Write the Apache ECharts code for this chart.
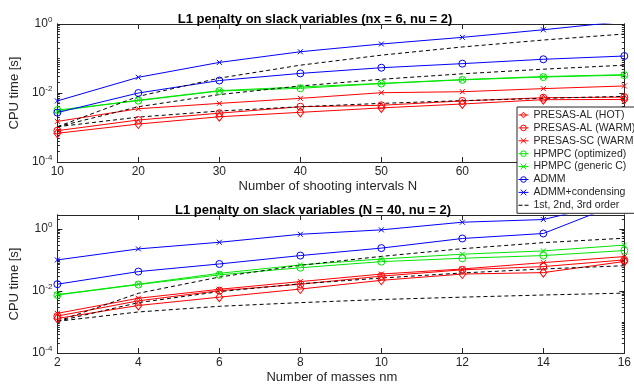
<!DOCTYPE html>
<html>
<head>
<meta charset="utf-8">
<script src="https://cdn.jsdelivr.net/npm/echarts@6/dist/echarts.min.js"></script>
<style>
  html, body { margin: 0; padding: 0; background: #fff; }
  #chart { width: 634px; height: 388px; }
</style>
</head>
<body>
<div id="chart"></div>
<script>
// x values of both panels
const shootingN = [10, 20, 30, 40, 50, 60, 70, 80];
const massesNm = [2, 4, 6, 8, 10, 12, 14, 16];

// top panel: CPU time vs N  (nx = 6, nu = 2)
const presasAlHotN = [6.8e-4, 1.26e-3, 2.05e-3, 2.75e-3, 3.7e-3, 4.8e-3, 6.4e-3, 6.5e-3];
const presasAlWarmN = [8.1e-4, 1.65e-3, 2.6e-3, 4.0e-3, 4.4e-3, 5.9e-3, 7.3e-3, 7.6e-3];
const presasScWarmN = [1.5e-3, 3.5e-3, 5.0e-3, 7.0e-3, 1.02e-2, 1.09e-2, 1.34e-2, 1.6e-2];
const hpmpcOptN = [3.2e-3, 6.0e-3, 1.14e-2, 1.37e-2, 1.87e-2, 2.4e-2, 2.9e-2, 3.3e-2];
const hpmpcGenN = [3.0e-3, 6.2e-3, 1.17e-2, 1.5e-2, 1.9e-2, 2.45e-2, 3.0e-2, 3.4e-2];
const admmN = [2.7e-3, 1.0e-2, 2.3e-2, 3.7e-2, 5.4e-2, 7.1e-2, 9.5e-2, 0.118];
const admmCondN = [5.9e-3, 2.85e-2, 7.7e-2, 0.157, 0.263, 0.41, 0.68, 1.19];
const order1N = [1.05e-3, 2e-3, 3e-3, 4e-3, 5e-3, 6e-3, 7e-3, 8e-3];
const order2N = [1.05e-3, 4e-3, 9e-3, 1.6e-2, 2.5e-2, 3.6e-2, 4.9e-2, 6.4e-2];
const order3N = [1.05e-3, 8e-3, 2.7e-2, 6.4e-2, 0.125, 0.216, 0.343, 0.512];

// bottom panel: CPU time vs nm  (N = 40, nu = 2)
const presasAlHotM = [1.3e-3, 3.4e-3, 6.3e-3, 1.15e-2, 2.2e-2, 3.5e-2, 3.9e-2, 8.9e-2];
const presasAlWarmM = [1.55e-3, 4.8e-3, 1.02e-2, 1.65e-2, 3.0e-2, 4.8e-2, 6.1e-2, 0.1];
const presasScWarmM = [1.9e-3, 5.8e-3, 1.13e-2, 2.0e-2, 3.5e-2, 5.1e-2, 8.2e-2, 0.128];
const hpmpcOptM = [7.4e-3, 1.6e-2, 3.3e-2, 5.6e-2, 8.8e-2, 0.113, 0.138, 0.2];
const hpmpcGenM = [7.6e-3, 1.65e-2, 3.7e-2, 6.9e-2, 0.107, 0.153, 0.195, 0.3];
const admmM = [1.65e-2, 4.2e-2, 7.4e-2, 0.138, 0.24, 0.49, 0.71, 7.5];
const admmCondM = [0.1, 0.226, 0.37, 0.67, 0.93, 1.64, 2.0, 8.4];
const order1M = [1.05e-3, 2.1e-3, 3.2e-3, 4.2e-3, 5.3e-3, 6.3e-3, 7.4e-3, 8.5e-3];
const order2M = [1.05e-3, 4.2e-3, 9.5e-3, 1.7e-2, 2.6e-2, 3.8e-2, 5.1e-2, 6.5e-2];
const order3M = [1.05e-3, 8.4e-3, 2.8e-2, 6.7e-2, 0.13, 0.23, 0.36, 0.5];

const legendNames = ['PRESAS-AL (HOT)', 'PRESAS-AL (WARM)', 'PRESAS-SC (WARM)', 'HPMPC (optimized)',
  'HPMPC (generic C)', 'ADMM', 'ADMM+condensing', '1st, 2nd, 3rd order'];
const yMajor = [1e-4, 1e-2, 1];

const FONT = 'Liberation Sans';
const AX = '#262626';
const RED = '#ff0000', GREEN = '#00e600', BLUE = '#0000ff';
const XMARK = 'path://M0,0L10,10M10,0L0,10';
const NOFILL = 'rgba(0,0,0,0)';

// marker / colour of each legend entry
const styles = [
  { color: RED, symbol: 'diamond', size: [7, 9] },
  { color: RED, symbol: 'circle', size: 7 },
  { color: RED, symbol: XMARK, size: 5 },
  { color: GREEN, symbol: 'circle', size: 7 },
  { color: GREEN, symbol: XMARK, size: 5 },
  { color: BLUE, symbol: 'circle', size: 7 },
  { color: BLUE, symbol: XMARK, size: 5 },
  { color: '#000', symbol: 'none', size: 0, dashed: true }
];

function pairs(xs, ys) {
  return xs.map((x, i) => [x, ys[i]]);
}

// log minor tick positions 1..9 x 10^k inside [lo, hi]
function minorTicks(lo, hi) {
  let out = [];
  for (let k = -5; k <= 1; k++) {
    for (let m = 1; m <= 9; m++) {
      let v = m * Math.pow(10, k);
      if (v >= lo * 0.999 && v <= hi * 1.001) out.push(v);
    }
  }
  return out;
}

function yLabel(v) {
  let e = Math.round(Math.log10(v));
  return '{b|10}{s|' + e + '}';
}

function makeX(grid, min, max, interval, name, shift, withLabels) {
  return {
    type: 'value', gridIndex: grid, min: min, max: max, interval: interval,
    position: withLabels ? 'bottom' : 'top',
    name: withLabels ? name : '', nameLocation: 'middle', nameGap: 18,
    nameTextStyle: { fontFamily: FONT, fontSize: 13, color: AX, padding: [0, shift, 0, 0] },
    axisLine: { show: true, lineStyle: { color: AX, width: 1 } },
    axisTick: { show: true, inside: true, length: 5, lineStyle: { color: AX } },
    axisLabel: { show: withLabels, margin: 4, fontFamily: FONT, fontSize: 12, color: AX },
    splitLine: { show: false }
  };
}

function makeY(grid, max, side, major, withName) {
  return {
    type: 'log', gridIndex: grid, min: 1e-4, max: max, position: side,
    name: withName ? 'CPU time [s]' : '', nameLocation: 'middle', nameGap: 27,
    nameTextStyle: { fontFamily: FONT, fontSize: 13, color: AX },
    axisLine: { show: true, lineStyle: { color: AX, width: 1 } },
    axisTick: {
      show: true, inside: true, length: major ? 5 : 2.5,
      customValues: major ? yMajor : minorTicks(1e-4, max),
      lineStyle: { color: AX }
    },
    axisLabel: {
      show: major && side === 'left', margin: 5, customValues: yMajor,
      formatter: yLabel, fontFamily: FONT, color: AX,
      rich: {
        b: { fontFamily: FONT, fontSize: 12, color: AX },
        s: { fontFamily: FONT, fontSize: 8, color: AX, padding: [0, 0, 8, 0] }
      }
    },
    splitLine: { show: false },
    minorTick: { show: false }
  };
}

function lineSeries(name, grid, xs, ys, st) {
  return {
    name: name, type: 'line', xAxisIndex: grid * 2, yAxisIndex: grid * 4,
    data: pairs(xs, ys), clip: true,
    symbol: st.symbol, symbolSize: st.size, showSymbol: st.symbol !== 'none',
    lineStyle: { color: st.color, width: 1, type: st.dashed ? [4, 3] : 'solid' },
    itemStyle: { color: st.dashed ? st.color : NOFILL, borderColor: st.color, borderWidth: 1 },
    emphasis: { disabled: true },
    animation: false
  };
}

function panelSeries(grid, xs, d) {
  let list = styles.map((st, i) => lineSeries(legendNames[i], grid, xs, d[i], st));
  list.push(lineSeries('2nd order', grid, xs, d[8], styles[7]));
  list.push(lineSeries('3rd order', grid, xs, d[9], styles[7]));
  return list;
}

// legend entries: line + hollow marker, dashed line for the order guides
let legendData = legendNames.map((name, i) => {
  let st = styles[i];
  if (st.dashed) {
    return {
      name: name, icon: 'path://M0,0h4v1h-4zM6,0h4v1h-4z',
      itemStyle: { color: '#000', borderWidth: 0 }
    };
  }
  return {
    name: name,
    itemStyle: { color: NOFILL, borderColor: st.color, borderWidth: 1 },
    lineStyle: { color: st.color, width: 1 }
  };
});

var myChart = echarts.init(document.getElementById('chart'), null, { renderer: 'canvas' });

let option = {
  animation: false,
  backgroundColor: '#fff',
  title: [
    {
      text: 'L1 penalty on slack variables (nx = 6, nu = 2)', left: 310, top: 8, textAlign: 'center',
      textStyle: { fontFamily: FONT, fontSize: 13, fontWeight: 'bold', color: '#000' }
    },
    {
      text: 'L1 penalty on slack variables (N = 40, nu = 2)', left: 308, top: 199, textAlign: 'center',
      textStyle: { fontFamily: FONT, fontSize: 13, fontWeight: 'bold', color: '#000' }
    }
  ],
  grid: [
    { left: 53, top: 24, width: 572, height: 138 },
    { left: 53, top: 215, width: 572, height: 138 }
  ],
  legend: {
    data: legendData, orient: 'vertical', left: 517, top: 107, height: 110,
    backgroundColor: '#fff', borderColor: AX, borderWidth: 1,
    padding: [2, 4, 2, 1], itemGap: 0.9, itemWidth: 10, itemHeight: 7,
    textStyle: { fontFamily: FONT, fontSize: 10.5, color: AX, lineHeight: 12 },
    selectedMode: false, z: 10
  },
  xAxis: [
    makeX(0, 10, 80, 10, 'Number of shooting intervals N', 26, true),
    makeX(0, 10, 80, 10, '', 0, false),
    makeX(1, 2, 16, 2, 'Number of masses nm', 18, true),
    makeX(1, 2, 16, 2, '', 0, false)
  ],
  yAxis: [
    makeY(0, 1, 'left', true, true),
    makeY(0, 1, 'left', false, false),
    makeY(0, 1, 'right', true, false),
    makeY(0, 1, 'right', false, false),
    makeY(1, 2.8, 'left', true, true),
    makeY(1, 2.8, 'left', false, false),
    makeY(1, 2.8, 'right', true, false),
    makeY(1, 2.8, 'right', false, false)
  ],
  series: [].concat(
    panelSeries(0, shootingN, [presasAlHotN, presasAlWarmN, presasScWarmN, hpmpcOptN, hpmpcGenN,
      admmN, admmCondN, order1N, order2N, order3N]),
    panelSeries(1, massesNm, [presasAlHotM, presasAlWarmM, presasScWarmM, hpmpcOptM, hpmpcGenM,
      admmM, admmCondM, order1M, order2M, order3M])
  )
};

myChart.setOption(option);
</script>
</body>
</html>
